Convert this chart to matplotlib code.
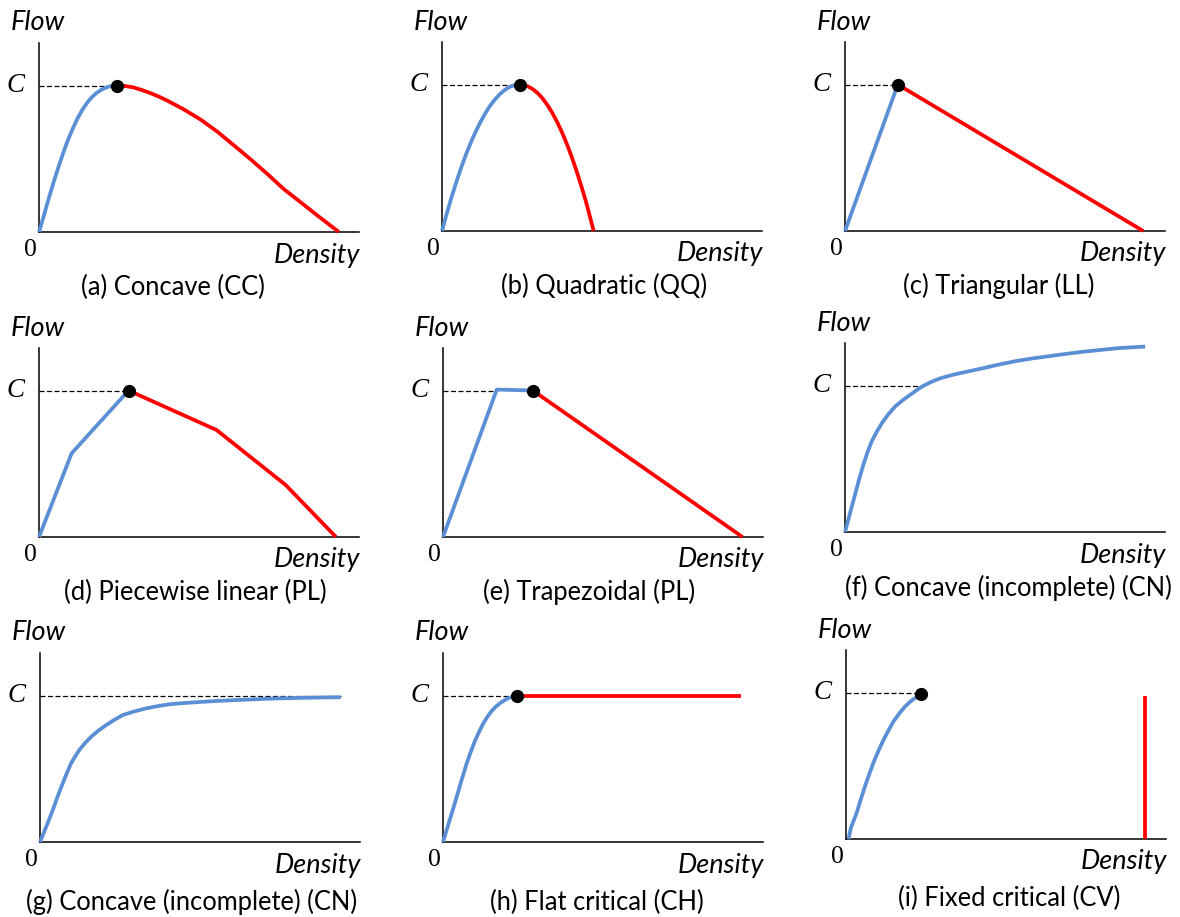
import matplotlib
matplotlib.use("Agg")
import matplotlib.pyplot as plt

# capacity level shared by all panels
C_LEVEL = 77.5

# (a) Concave
a_free_x = [0, 1.5, 3, 4.5, 6, 7.5, 9, 10.5, 12, 13.5, 15, 16.5, 18, 19.5, 21, 22.5, 24.5]
a_free_y = [0, 8.5, 17.5, 26, 34, 41.5, 48.5, 54.5, 60, 64.5, 68.3, 71.3, 73.6, 75.3, 76.5, 77.2, 77.5]
a_cong_x = [24.5, 27, 29.5, 32, 34.8, 37.5, 40.1, 45.1, 50.5, 55.8, 60.8, 66.1, 71.5, 76.5, 81.8, 87.1, 93.7]
a_cong_y = [77.5, 77.2, 76.5, 75.2, 73.5, 71.6, 69.5, 65, 59.5, 53, 46, 38.5, 30.5, 22.7, 15.7, 8.6, 0]

# (b) Quadratic
b_free_x = [0, 1.5, 3, 4.5, 6, 7.5, 9, 10.5, 12, 13.5, 15, 16.5, 18, 19.5, 21, 22.5, 24.3]
b_free_y = [0, 9.3, 18, 26, 33.6, 40.5, 46.8, 52.5, 57.6, 62.2, 66.2, 69.5, 72.3, 74.5, 76.1, 77.1, 77.5]
b_cong_x = [24.3, 25.5, 27, 28.5, 30, 31.5, 33, 34.5, 36, 37.5, 39, 40.5, 42, 43.5, 45, 46.2, 47.4]
b_cong_y = [77.5, 77.3, 76.4, 74.9, 72.8, 70.0, 66.5, 62.4, 57.6, 52.2, 46.1, 39.4, 32.0, 24.0, 15.5, 7.8, 0]

# (c) Triangular
c_free_x = [0, 16.5]
c_free_y = [0, 77.5]
c_cong_x = [16.5, 93.2]
c_cong_y = [77.5, 0]

# (d) Piecewise linear
d_free_x = [0, 10.2, 28.0]
d_free_y = [0, 44.3, 77.5]
d_cong_x = [28.0, 55.5, 77.1, 92.8]
d_cong_y = [77.5, 56.6, 27.5, 0]

# (e) Trapezoidal
e_free_x = [0, 16.8, 28.1]
e_free_y = [0, 78, 77.5]
e_cong_x = [28.1, 93.6]
e_cong_y = [77.5, 0]

# (f) Concave (incomplete), crosses C
f_free_x = [0, 1.5, 3.1, 4.4, 5.7, 7, 8.3, 9.9, 11.5, 13.5, 15.6, 18, 20.3, 22.2, 24, 26.8, 29.7,
            33.8, 38, 43.2, 48.4, 53.6, 58.8, 64.1, 69.3, 74.5, 79.7, 84.9, 89.4, 93.8]
f_free_y = [0, 9.5, 19.6, 27.8, 35.4, 42, 47.8, 53, 57.5, 62.2, 66.3, 69.7, 72.5, 74.8, 76.9, 79.3, 81.3,
            83.2, 84.8, 86.7, 88.7, 90.5, 91.9, 93.1, 94.3, 95.4, 96.3, 97.2, 97.7, 98.1]

# (g) Concave (incomplete), approaches C
g_free_x = [0, 2, 4, 5.5, 7.1, 8.4, 9.7, 11, 12.3, 14.1, 16, 18.3, 20.7, 23.3, 25.9, 29.5, 33.2,
            36.8, 40.5, 45.7, 51, 56.2, 61.4, 71, 82, 94]
g_free_y = [0, 8.3, 16.9, 24.1, 31, 36.5, 41.6, 45.3, 48.7, 52.4, 55.7, 59, 61.9, 64.7, 67.2, 69.1, 70.7,
            71.9, 72.9, 73.6, 74.2, 74.7, 75.1, 75.8, 76.3, 76.6]

# (h) Flat critical
h_free_x = [0, 1.8, 3.6, 5.5, 7.4, 8.7, 10, 11.3, 12.6, 13.9, 15.2, 16.5, 17.8, 19.2, 20.5, 21.9, 23.2]
h_free_y = [0, 10, 20, 31, 41.6, 47.8, 53.5, 58.4, 62.8, 66.3, 69.3, 71.6, 73.4, 75, 76.2, 77, 77.5]
h_cong_x = [23.2, 93.0]
h_cong_y = [77.5, 77.5]

# (i) Fixed critical
i_free_x = [0.8, 1.5, 3.3, 4.6, 5.9, 7.2, 8.5, 10.1, 11.7, 13.3, 14.8, 16.6, 18.4, 19.7, 21, 22.3, 23.5]
i_free_y = [0, 5.8, 13.7, 20.8, 27.7, 34, 40.1, 46.5, 52.4, 57.5, 62.1, 66.3, 70, 72.1, 73.9, 75.3, 76.5]
i_cong_x = [93.4, 93.4]
i_cong_y = [0, 75.7]

captions = ["(a) Concave (CC)", "(b) Quadratic (QQ)", "(c) Triangular (LL)",
            "(d) Piecewise linear (PL)", "(e) Trapezoidal (PL)", "(f) Concave (incomplete) (CN)",
            "(g) Concave (incomplete) (CN)", "(h) Flat critical (CH)", "(i) Fixed critical (CV)"]

panels = [
    (a_free_x, a_free_y, a_cong_x, a_cong_y, 24.5, True),
    (b_free_x, b_free_y, b_cong_x, b_cong_y, 24.3, True),
    (c_free_x, c_free_y, c_cong_x, c_cong_y, 16.5, True),
    (d_free_x, d_free_y, d_cong_x, d_cong_y, 28.0, True),
    (e_free_x, e_free_y, e_cong_x, e_cong_y, 16.8, True),
    (f_free_x, f_free_y, None, None, 24.0, False),
    (g_free_x, g_free_y, None, None, 94.0, False),
    (h_free_x, h_free_y, h_cong_x, h_cong_y, 23.2, True),
    (i_free_x, i_free_y, i_cong_x, i_cong_y, 23.5, True),
]

# layout in pixels: axes origin (x, y from top), and caption offsets
W, H = 1180, 917
AX_W, AX_H = 320, 189
origins = [(39, 232), (442, 231), (845, 231),
           (39, 537), (443, 537), (845, 532),
           (40, 842), (443, 842), (846, 839)]
cap_x = [0.42, 0.506, 0.48, 0.49, 0.457, 0.51, 0.475, 0.48, 0.51]
cap_dy = [55, 55, 55, 55, 55, 56, 60, 60, 59]

BLUE = "#5A8FD6"
RED = "#FF0000"
SANS = "Lato"
SERIF = "Liberation Serif"

fig = plt.figure(figsize=(W / 100, H / 100), dpi=100)

for k, (fx, fy, cx, cy, crit_x, dot) in enumerate(panels):
    ox, oy = origins[k]
    ax = fig.add_axes([ox / W, (H - oy) / H, AX_W / W, AX_H / H])
    ax.set_xlim(0, 100)
    ax.set_ylim(0, 100)
    for s in ["top", "right"]:
        ax.spines[s].set_visible(False)
    for s in ["left", "bottom"]:
        ax.spines[s].set_linewidth(1.1)
    ax.set_xticks([])
    ax.set_yticks([])

    ax.plot([0, crit_x], [C_LEVEL, C_LEVEL], color="black", lw=0.9,
            dashes=(4, 2), zorder=2, clip_on=False)
    ax.plot(fx, fy, color=BLUE, lw=2.7, solid_capstyle="butt", solid_joinstyle="round",
            zorder=3, clip_on=False)
    if cx is not None:
        ax.plot(cx, cy, color=RED, lw=2.7, solid_capstyle="butt", solid_joinstyle="round",
                zorder=3, clip_on=False)
    if dot:
        ax.plot(fx[-1], fy[-1], "o", color="black", ms=8.5, zorder=4, clip_on=False)

    # labels
    ax.text(-28 / AX_W, 1 + 20 / AX_H, "Flow", transform=ax.transAxes, ha="left", va="center",
            fontsize=19.5, style="italic", family=SANS)
    ax.text(1 + 1 / AX_W, -23 / AX_H, "Density", transform=ax.transAxes, ha="right", va="center",
            fontsize=19.5, style="italic", family=SANS)
    ax.text(-14 / AX_W, C_LEVEL, "C", transform=ax.get_yaxis_transform(), ha="right", va="center",
            fontsize=19.5, style="italic", family=SERIF)
    ax.text(-9 / AX_W, -18 / AX_H, "0", transform=ax.transAxes, ha="center", va="center",
            fontsize=18.5, family=SERIF)
    ax.text(cap_x[k], -cap_dy[k] / AX_H, captions[k], transform=ax.transAxes, ha="center",
            va="center", fontsize=18.4, family=SANS)

fig.savefig("out.png", dpi=100)
